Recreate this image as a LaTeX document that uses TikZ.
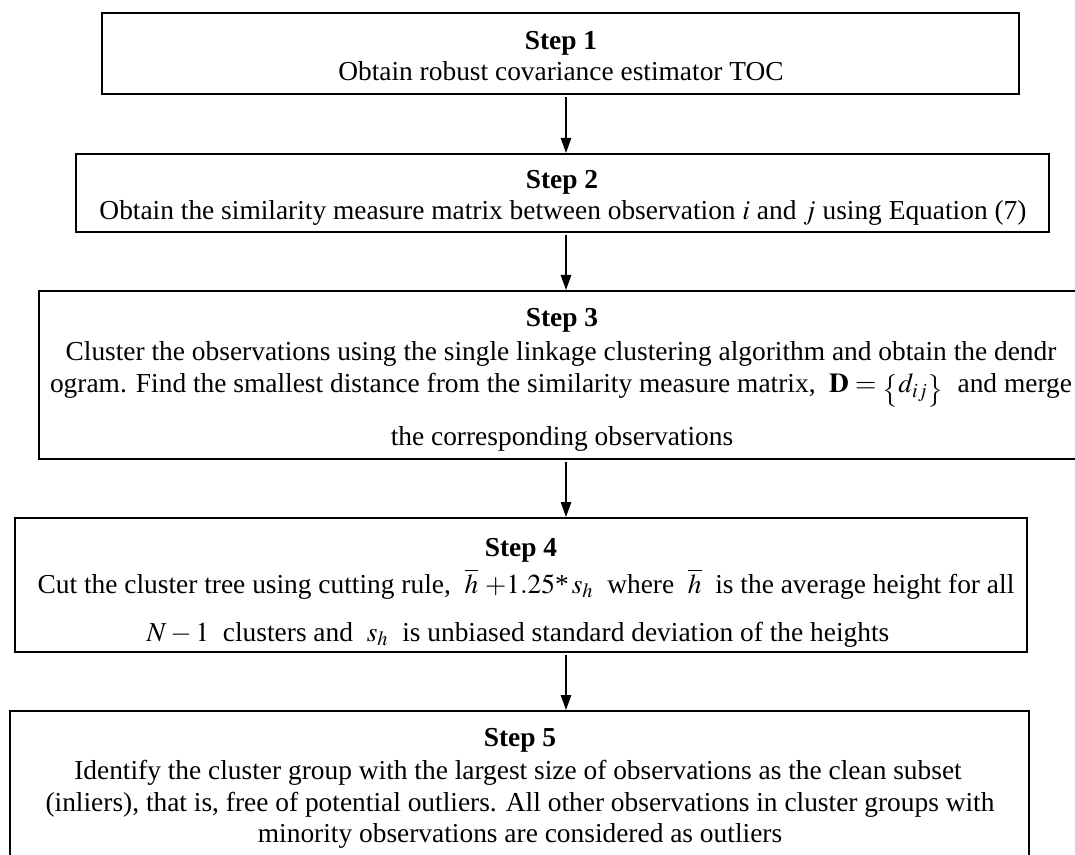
\documentclass[tikz,border=0pt]{standalone}
\usepackage{mathptmx}
\usepackage{fontspec}
\setmainfont{Liberation Serif}
\usetikzlibrary{arrows.meta,fit}
\newcommand{\lowbrace}[1]{\raisebox{-2.5pt}{$\bigl#1$}}
\begin{document}
\begin{tikzpicture}[x=0.5pt,y=-0.5pt,
  stepbox/.style={draw, line width=1pt, inner sep=0pt},
  ln/.style={anchor=base, inner sep=0pt, font=\fontsize{13.7pt}{16pt}\selectfont},
  hd/.style={anchor=base, inner sep=0pt, font=\fontsize{13.7pt}{16pt}\selectfont\bfseries},
  flow/.style={line width=0.75pt, -{Triangle[length=7.5pt,width=5.2pt]}}]
\useasboundingbox (0,0) rectangle (1075,855);
\clip (0,0) rectangle (1075,855);

% boxes
\node[stepbox, fit={(102,13) (1019,94)}] (b1) {};
\node[stepbox, fit={(76,154) (1049,232)}] (b2) {};
\node[stepbox, fit={(39,291) (1085,459)}] (b3) {};
\node[stepbox, fit={(15,518) (1027,652)}] (b4) {};
\node[stepbox, fit={(10,711) (1029,880)}] (b5) {};

% step 1
\node[hd] (h1) at (561,50) {Step 1};
\node[ln] (l11) at (561,81) {Obtain robust covariance estimator TOC};

% step 2
\node[hd] (h2) at (562,189) {Step 2};
\node[ln] (l21) at (563,220) {Obtain the similarity measure matrix between observation $i$ and $j$ using Equation (7)};

% step 3
\node[hd] (h3) at (562,327) {Step 3};
\node[ln] (l31) at (561,360) {Cluster the observations using the single linkage clustering algorithm and obtain the dendr};
\node[ln] (l32) at (561,393) {ogram. Find the smallest distance from the similarity measure matrix, \ $\mathbf{D}=\smash{\lowbrace\{d_{ij}\lowbrace\}}$\ \ and merge};
\node[ln] (l33) at (562,445) {the corresponding observations};

% step 4
\node[hd] (h4) at (521,556) {Step 4};
\node[ln] (l41) at (526,593) {Cut the cluster tree using cutting rule, \ $\overline{h}\ {+}1.25\mbox{*}\,s_h$\ \ where \ $\overline{h}$\ \ is the average height for all};
\node[ln] (l42) at (518,641) {$N-1$\ \ clusters and \ $s_h$\ \ is unbiased standard deviation of the heights};

% step 5
\node[hd] (h5) at (520,746) {Step 5};
\node[ln] (l51) at (518,779) {Identify the cluster group with the largest size of observations as the clean subset};
\node[ln] (l52) at (520,811) {(inliers), that is, free of potential outliers. All other observations in cluster groups with};
\node[ln] (l53) at (520,842) {minority observations are considered as outliers};

% connectors
\coordinate (ax) at (566,0);
\draw[flow] ([yshift=-1pt]b1.south -| ax) -- (b2.north -| ax);
\draw[flow] ([yshift=-1pt]b2.south -| ax) -- (b3.north -| ax);
\draw[flow] ([yshift=-1pt]b3.south -| ax) -- (b4.north -| ax);
\draw[flow] ([yshift=-1pt]b4.south -| ax) -- (b5.north -| ax);
\end{tikzpicture}
\end{document}
